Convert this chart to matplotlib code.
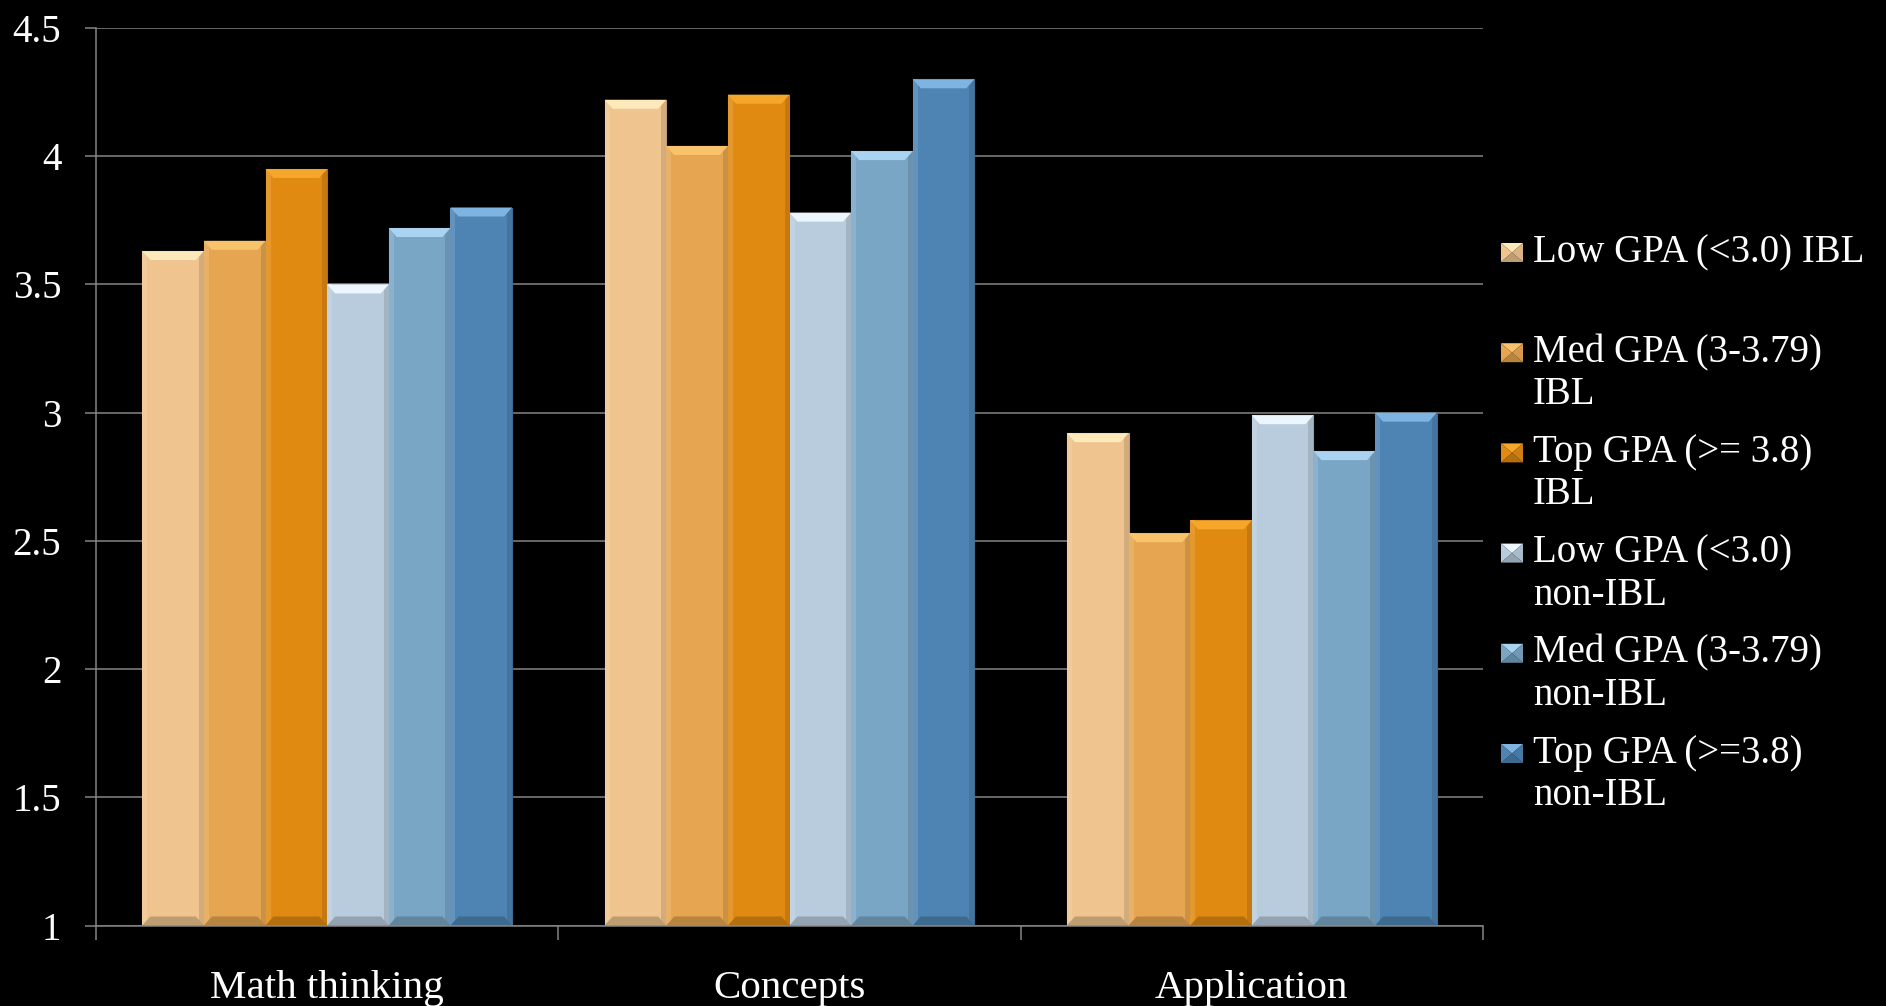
import numpy as np
import matplotlib
matplotlib.use("Agg")
import matplotlib.pyplot as plt
from matplotlib.patches import Polygon, Rectangle
from matplotlib.colors import to_rgb

# ---- data -------------------------------------------------------------
categories = ["Math thinking", "Concepts", "Application"]
series_names = [
    "Low GPA (<3.0) IBL",
    "Med GPA (3-3.79)\nIBL",
    "Top GPA (>= 3.8)\nIBL",
    "Low GPA (<3.0)\nnon-IBL",
    "Med GPA (3-3.79)\nnon-IBL",
    "Top GPA (>=3.8)\nnon-IBL",
]
low_ibl = [3.63, 4.22, 2.92]
med_ibl = [3.67, 4.04, 2.53]
top_ibl = [3.95, 4.24, 2.58]
low_non = [3.50, 3.78, 2.99]
med_non = [3.72, 4.02, 2.85]
top_non = [3.80, 4.30, 3.00]
series_values = [low_ibl, med_ibl, top_ibl, low_non, med_non, top_non]
y_ticks = [1, 1.5, 2, 2.5, 3, 3.5, 4, 4.5]
y_tick_labels = ["1", "1.5", "2", "2.5", "3", "3.5", "4", "4.5"]

# ---- style ------------------------------------------------------------
body_colors = ["#EFC48E", "#E6A651", "#E08A12", "#B9CCDD", "#7AA6C6", "#4E84B3"]
top_colors = ["#FDE9BA", "#F9C36C", "#F7A62C", "#EBF6FD", "#AAD3F1", "#7DB4E1"]
grid_color = "#858585"
serif = ["Liberation Serif", "DejaVu Serif"]

W, H, DPI = 1886, 1006, 100
fig = plt.figure(figsize=(W / DPI, H / DPI), dpi=DPI, facecolor="black")

ax_l, ax_r, ax_t, ax_b = 96, 1483, 28, 925.5
ax = fig.add_axes([ax_l / W, 1 - ax_b / H, (ax_r - ax_l) / W, (ax_b - ax_t) / H])
ax.set_facecolor("black")

n_series = len(series_values)
group_width = 0.8
bar_w = group_width / n_series
x = np.arange(len(categories))

ax.set_xlim(-0.5, len(categories) - 0.5)
ax.set_ylim(1, 4.5)

# pixel -> data scale factors for the bevel decoration
px_x = (len(categories)) / (ax_r - ax_l)
px_y = (4.5 - 1) / (ax_b - ax_t)


def shade(c, f):
    r, g, b = to_rgb(c)
    return (r * f, g * f, b * f)


def lighten(c, f):
    r, g, b = to_rgb(c)
    return (r + (1 - r) * f, g + (1 - g) * f, b + (1 - b) * f)


for i, vals in enumerate(series_values):
    offs = x + (i - (n_series - 1) / 2) * bar_w
    bars = ax.bar(offs, [v - 1 for v in vals], width=bar_w, bottom=1,
                  color=body_colors[i], edgecolor=shade(body_colors[i], 0.8),
                  linewidth=0.8, zorder=3)
    for rect in bars:
        x0 = rect.get_x()
        x1 = x0 + rect.get_width()
        y0 = rect.get_y()
        y1 = y0 + rect.get_height()
        ix = 8 * px_x
        iy = 9 * px_y
        sx = 5 * px_x
        # side shading
        ax.add_patch(Rectangle((x0, y0), sx, y1 - y0, color=lighten(body_colors[i], 0.12),
                               lw=0, zorder=4))
        ax.add_patch(Rectangle((x1 - sx, y0), sx, y1 - y0, color=shade(body_colors[i], 0.88),
                               lw=0, zorder=4))
        # top bevel
        ax.add_patch(Polygon([(x0, y1), (x1, y1), (x1 - ix, y1 - iy), (x0 + ix, y1 - iy)],
                             closed=True, color=top_colors[i], lw=0, zorder=5))
        # bottom bevel
        ax.add_patch(Polygon([(x0, y0), (x1, y0), (x1 - ix, y0 + iy), (x0 + ix, y0 + iy)],
                             closed=True, color=shade(body_colors[i], 0.8), lw=0, zorder=5))

# grid and axes
ax.set_yticks(y_ticks)
ax.set_yticklabels(y_tick_labels)
ax.yaxis.grid(True, color=grid_color, linewidth=1.1, zorder=0)
ax.set_axisbelow(True)
for side in ["top", "right"]:
    ax.spines[side].set_visible(False)
for side in ["left", "bottom"]:
    ax.spines[side].set_color(grid_color)
    ax.spines[side].set_linewidth(1.1)
    ax.spines[side].set_zorder(6)

ax.tick_params(axis="y", colors=grid_color, length=8, width=1.1, pad=17,
               labelcolor="white", labelsize=28)
for lab in ax.get_yticklabels():
    lab.set_fontfamily(serif)

ax.set_xticks(x)
ax.set_xticklabels(categories)
ax.set_xticks(np.arange(len(categories) + 1) - 0.5, minor=True)
ax.tick_params(axis="x", which="major", length=0, pad=32, labelcolor="white", labelsize=29.5)
ax.tick_params(axis="x", which="minor", length=10, width=1.1, colors=grid_color)
for lab in ax.get_xticklabels():
    lab.set_fontfamily(serif)

# legend: beveled swatches with wrapped labels
leg_x_mark, leg_x_text = 1501, 1533
first_base, entry_step, line_step = 262, 100.2, 42
mw, mh = 22, 19
for i, name in enumerate(series_names):
    base = first_base + i * entry_step
    for j, line in enumerate(name.split("\n")):
        fig.text(leg_x_text / W, 1 - (base + j * line_step) / H, line, color="white",
                 fontsize=28, family=serif, ha="left", va="baseline")
    cx0, cx1 = leg_x_mark / W, (leg_x_mark + mw) / W
    cy_top = 1 - (base - mh) / H
    cy_bot = 1 - base / H
    cxm = (cx0 + cx1) / 2
    cym = (cy_top + cy_bot) / 2
    tri = [
        ([(cx0, cy_top), (cx1, cy_top), (cxm, cym)], top_colors[i]),
        ([(cx0, cy_bot), (cx1, cy_bot), (cxm, cym)], shade(body_colors[i], 0.8)),
        ([(cx0, cy_top), (cx0, cy_bot), (cxm, cym)], body_colors[i]),
        ([(cx1, cy_top), (cx1, cy_bot), (cxm, cym)], shade(body_colors[i], 0.92)),
    ]
    for pts, col in tri:
        fig.patches.append(Polygon(pts, closed=True, color=col, lw=0,
                                   transform=fig.transFigure, figure=fig))

fig.savefig("out.png", dpi=DPI, facecolor="black")
